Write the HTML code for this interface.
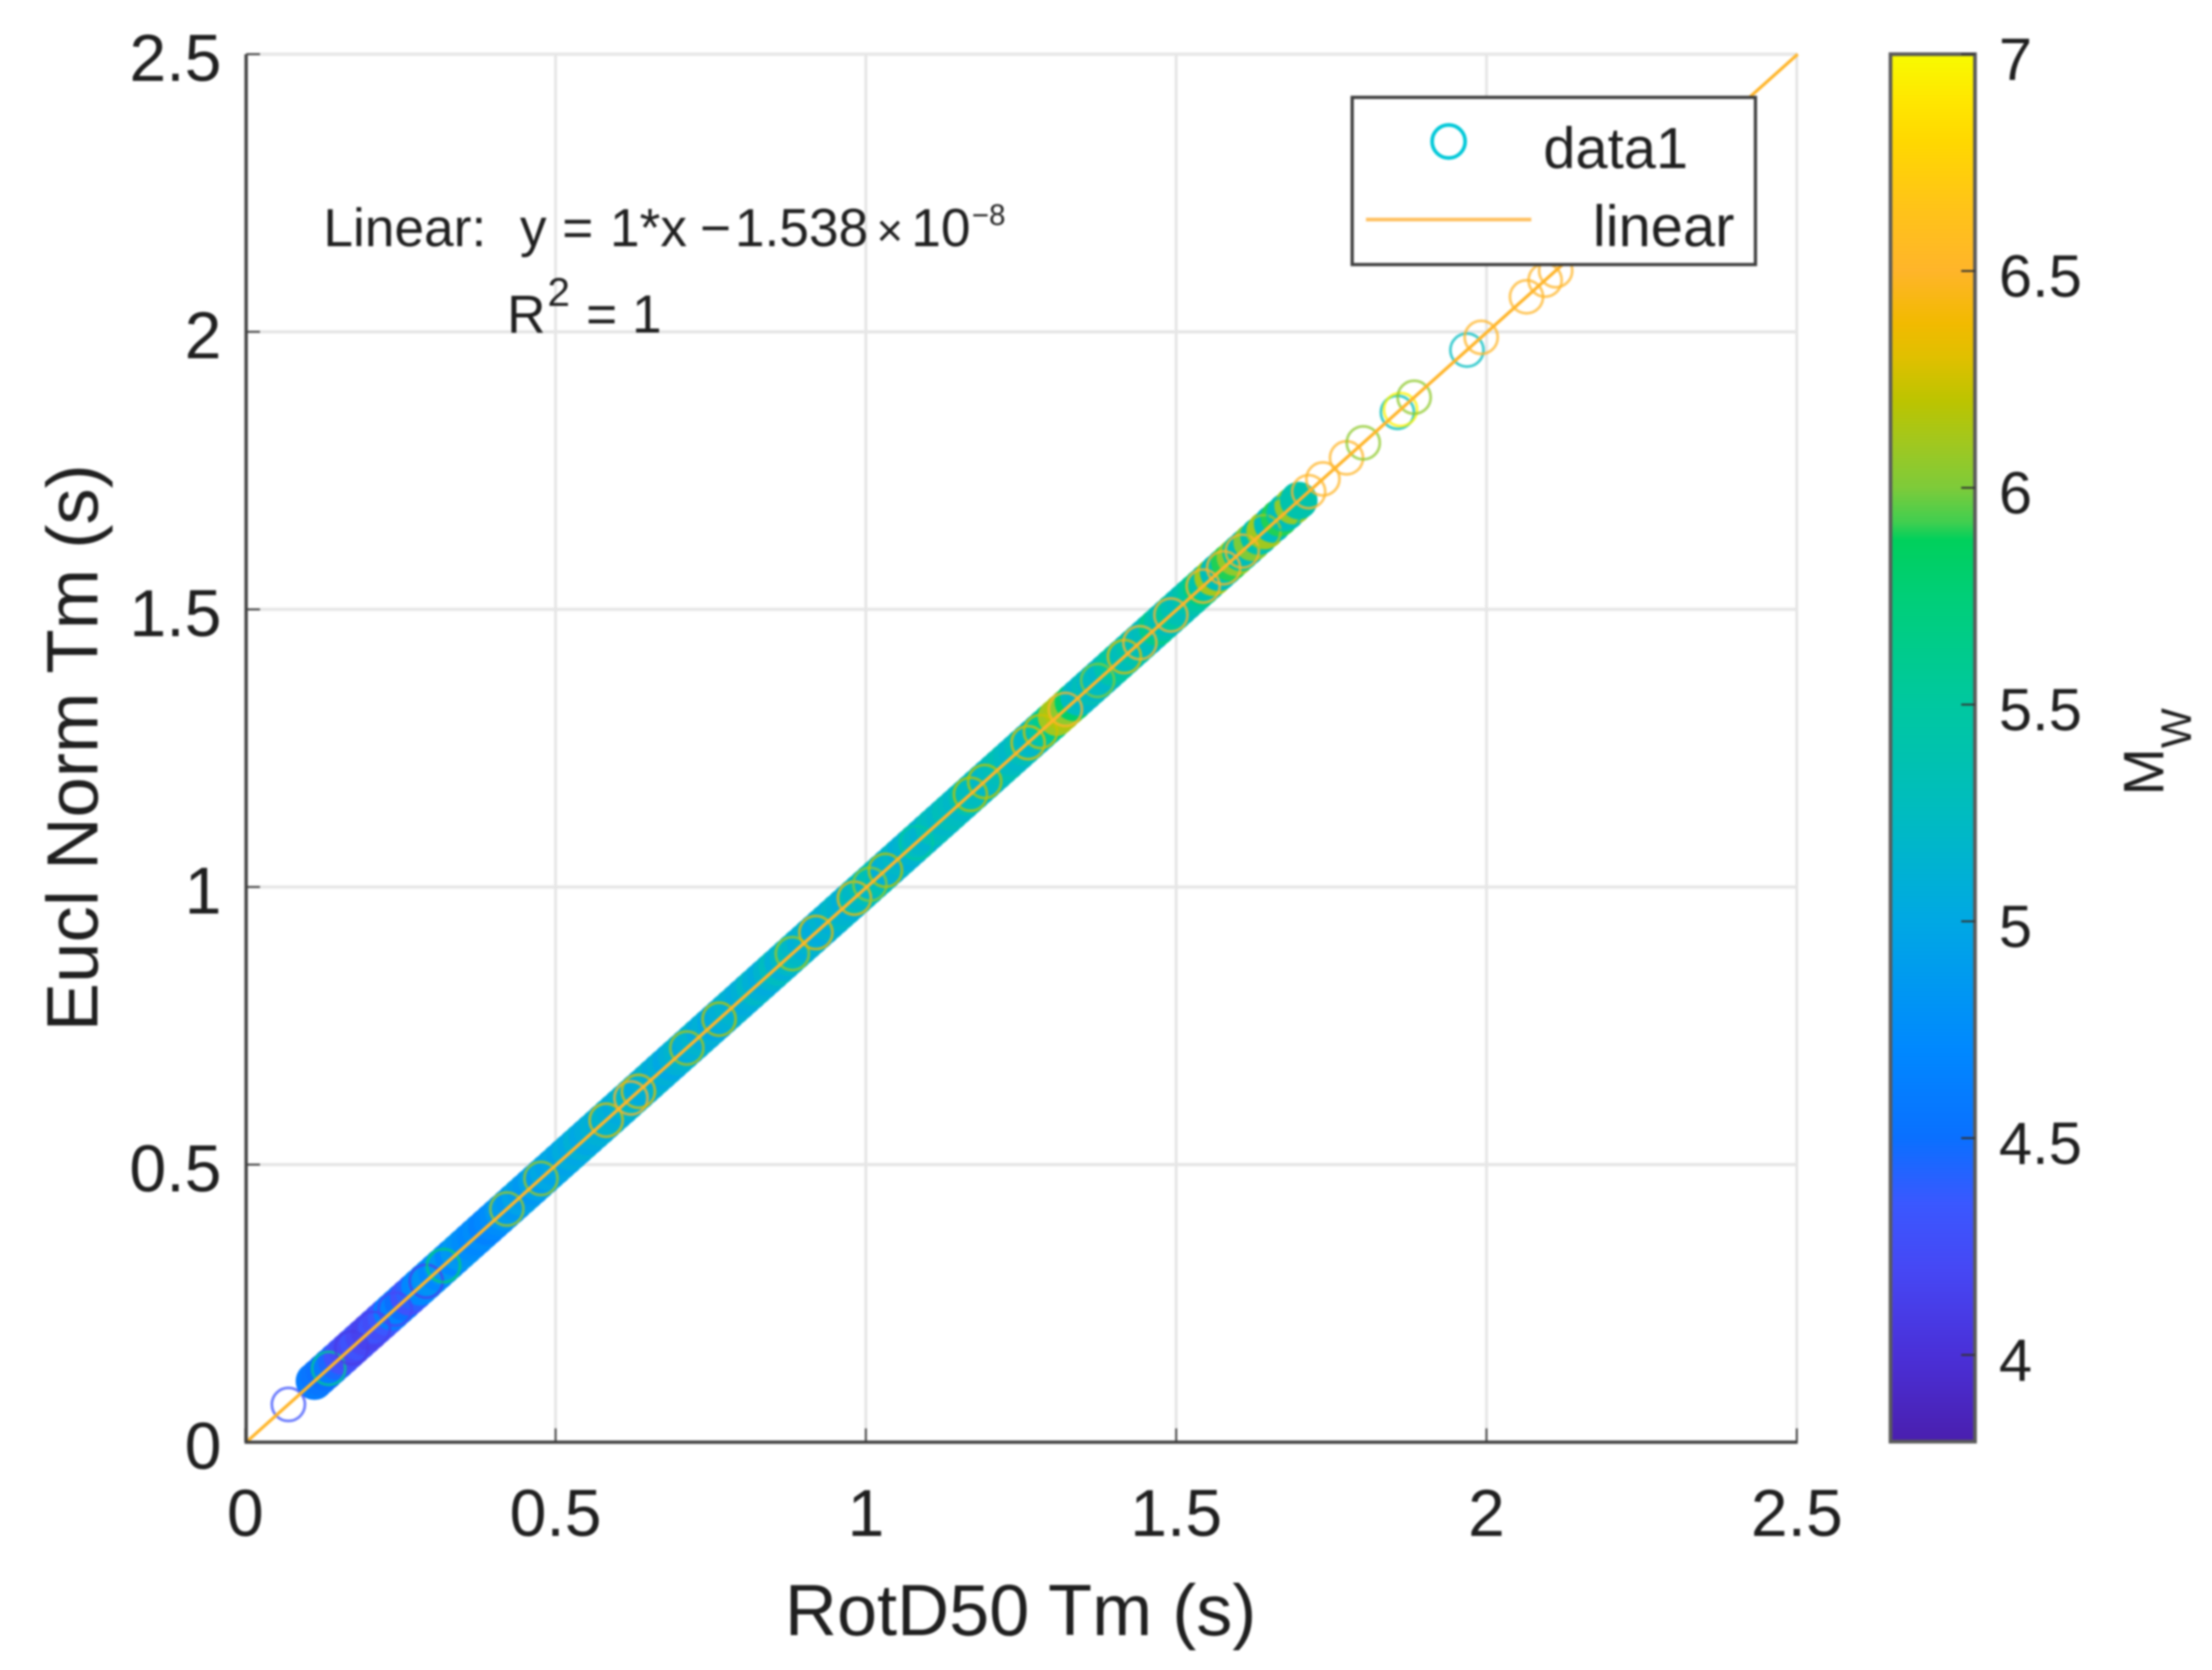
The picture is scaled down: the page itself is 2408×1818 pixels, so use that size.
<!DOCTYPE html>
<html lang="en">
<head>
<meta charset="utf-8">
<title>Eucl Norm Tm vs RotD50 Tm</title>
<style>
html,body{margin:0;padding:0;background:#fff;width:2408px;height:1818px;overflow:hidden}
svg{display:block;filter:blur(1px)}
text{font-family:"Liberation Sans",Arial,sans-serif;fill:#1f1f1f}
</style>
</head>
<body>
<svg id="chart" xmlns="http://www.w3.org/2000/svg" width="2408" height="1818" viewBox="0 0 2408 1818">
  <rect x="0" y="0" width="2408" height="1818" fill="#ffffff"/>
  <defs><linearGradient id="cmap" x1="0" y1="1" x2="0" y2="0"></linearGradient></defs>
  <g id="grid"></g>
  <g id="cluster"></g>
  <g id="rings"></g>
  <g id="fit"></g>
  <g id="axes"></g>

  <text y="268" font-size="58"><tspan x="352">Linear:</tspan><tspan x="566">y</tspan><tspan x="612">=</tspan><tspan x="664">1*x</tspan><tspan x="762">−</tspan><tspan x="800">1.538</tspan><tspan x="954" font-size="50">×</tspan><tspan x="992">10</tspan><tspan x="1058" y="245" font-size="32">−8</tspan></text>
  <text y="362" font-size="58"><tspan x="552">R</tspan><tspan x="596" y="333" font-size="44">2</tspan><tspan x="638" y="362">=</tspan><tspan x="688">1</tspan></text>

  <text x="1111" y="1780" font-size="78.5" text-anchor="middle">RotD50 Tm (s)</text>
  <text transform="translate(106,814) rotate(-90)" font-size="79" text-anchor="middle">Eucl Norm Tm (s)</text>

  <g>
    <rect x="1472" y="106" width="439" height="182" fill="#ffffff" stroke="#3c3c3c" stroke-width="3.5"/>
    <circle cx="1577" cy="154" r="18" fill="none" stroke="#00c8d8" stroke-width="4"/>
    <text x="1680" y="183" font-size="63">data1</text>
    <line x1="1487" y1="239" x2="1667" y2="239" stroke="#ffc060" stroke-width="4"/>
    <text x="1734" y="268" font-size="63">linear</text>
  </g>

  <g id="colorbar"></g>
  <text transform="translate(2355,866) rotate(-90)" font-size="62">M<tspan font-size="46" dy="30">W</tspan></text>
</svg>

<script>
const xTicks = [0, 0.5, 1, 1.5, 2, 2.5];
const yTicks = [0, 0.5, 1, 1.5, 2, 2.5];
const xTickLabels = ['0', '0.5', '1', '1.5', '2', '2.5'];
const yTickLabels = ['0', '0.5', '1', '1.5', '2', '2.5'];
const cbarTicks = [4, 4.5, 5, 5.5, 6, 6.5, 7];
const cbarTickLabels = ['4', '4.5', '5', '5.5', '6', '6.5', '7'];
const cmapMw = [3.8, 4.0, 4.2, 4.35, 4.5, 4.7, 5.0, 5.25, 5.5, 5.75, 5.88, 5.92, 6.0, 6.1, 6.2, 6.3, 6.38, 6.5, 6.65, 6.8, 6.9, 7.0];
const cmapHex = ['#4a1fae', '#4a30d8', '#4648f5', '#3a58ff', '#0a70ff', '#0088ff', '#00a8e4', '#00bcc0', '#00c8a0', '#00cf78', '#00d05c', '#40cf50', '#7ecb3a', '#a0c820', '#bcc400', '#e0c000', '#f2ba00', '#ffb52a', '#ffc418', '#ffd800', '#ffe800', '#f8fb00'];
const fitX = [0, 2.5];
const fitY = [0, 2.5];

/* densely overlapping records along the 1:1 line */
const clusterT = [0.110,0.118,0.127,0.136,0.146,0.155,0.164,0.172,0.181,0.190,0.199,0.208,0.217,0.226,0.235,0.244,0.253,0.262,0.271,0.280,0.289,0.298,0.307,0.316,0.325,0.334,0.343,0.352,0.361,0.370,0.379,0.388,0.397,0.406,0.415,0.424,0.433,0.442,0.451,0.460,0.469,0.478,0.487,0.496,0.505,0.514,0.523,0.532,0.541,0.550,0.559,0.568,0.577,0.586,0.595,0.604,0.613,0.622,0.631,0.640,0.649,0.658,0.667,0.676,0.685,0.694,0.703,0.712,0.721,0.730,0.739,0.748,0.757,0.766,0.775,0.784,0.793,0.802,0.811,0.820,0.829,0.838,0.847,0.856,0.865,0.874,0.883,0.892,0.901,0.910,0.919,0.928,0.937,0.946,0.955,0.964,0.973,0.982,0.991,1.000,1.009,1.018,1.027,1.036,1.045,1.054,1.063,1.072,1.081,1.090,1.099,1.108,1.117,1.126,1.135,1.144,1.153,1.162,1.171,1.180,1.189,1.198,1.207,1.216,1.225,1.234,1.243,1.252,1.261,1.270,1.279,1.288,1.297,1.306,1.315,1.324,1.333,1.342,1.351,1.360,1.369,1.378,1.387,1.396,1.405,1.414,1.423,1.432,1.441,1.450,1.459,1.468,1.477,1.486,1.495,1.504,1.513,1.522,1.531,1.540,1.549,1.558,1.567,1.576,1.585,1.594,1.603,1.612,1.621,1.632,1.643,1.654,1.665,1.676,1.687,1.696];
const clusterMw = [4.6,4.55,4.5,4.6,4.45,4.3,4.25,4.2,4.3,4.2,4.15,4.3,4.25,4.35,4.6,4.65,4.5,4.3,4.4,4.7,4.75,4.8,4.7,4.8,4.85,4.7,4.85,4.8,4.75,4.7,4.75,4.65,4.7,4.75,4.85,4.9,4.85,4.95,4.9,4.85,4.95,4.9,5.0,4.95,5.0,4.95,5.05,5.0,5.1,5.0,5.05,5.1,5.05,5.15,5.1,5.05,5.15,5.2,5.1,5.05,5.1,5.15,5.05,5.1,5.0,5.1,5.15,5.05,5.1,5.15,5.05,5.1,5.0,5.05,5.1,5.15,5.1,5.05,5.1,5.2,5.1,5.05,5.15,5.25,5.1,5.2,5.25,5.2,5.1,5.15,5.1,5.05,5.15,5.1,5.2,5.15,5.1,5.3,5.2,5.3,5.2,5.35,5.25,5.1,5.15,5.2,5.1,5.15,5.25,5.2,5.15,5.3,5.25,5.2,5.3,5.25,5.2,5.35,5.3,5.25,5.3,5.2,5.25,5.3,5.35,5.25,5.2,5.3,5.25,5.2,5.3,5.45,5.6,6.1,6.15,6.05,5.8,5.25,5.2,5.3,5.2,5.25,5.2,5.4,5.5,5.35,5.3,5.4,5.35,5.25,5.3,5.6,5.4,5.3,5.5,5.35,5.3,5.4,5.5,5.7,5.4,6.1,5.3,5.4,5.9,6.05,5.5,5.3,6.0,5.4,6.1,5.3,5.9,5.3,6.05,5.4];

/* individually readable open circles */
const ringT = [0.068,0.133,0.170,0.205,0.240,0.290,0.318,0.420,0.475,0.580,0.620,0.632,0.710,0.762,0.880,0.918,0.980,1.005,1.030,1.080,1.167,1.190,1.260,1.280,1.320,1.372,1.415,1.440,1.490,1.542,1.575,1.605,1.640,1.672,1.712,1.735,1.773,1.800,1.855,1.860,1.882,1.967,1.990,2.063,2.093,2.110];
const ringMw = [4.3,5.6,4.1,4.15,4.2,4.15,5.75,6.1,6.1,6.3,6.5,6.3,6.15,6.2,6.1,6.35,6.4,6.05,6.2,5.5,6.2,6.2,6.3,6.25,6.5,6.0,6.3,6.5,6.5,6.5,6.5,6.5,6.1,5.4,6.5,6.5,6.5,6.05,5.3,6.95,6.05,5.25,6.5,6.5,6.5,6.5];

function xScale(v) { return 268 + 675.6 * v; }
function yScale(v) { return 1570 - 604.4 * v; }
function cbarScale(v) { return 59 + (7 - v) * 472; }

function mwColor(m) {
  if (m <= cmapMw[0]) return cmapHex[0];
  for (let i = 1; i < cmapMw.length; i++) {
    if (m <= cmapMw[i]) {
      const f = (m - cmapMw[i - 1]) / (cmapMw[i] - cmapMw[i - 1]);
      const a = parseInt(cmapHex[i - 1].slice(1), 16), b = parseInt(cmapHex[i].slice(1), 16);
      const r = Math.round((a >> 16) + ((b >> 16) - (a >> 16)) * f);
      const g = Math.round(((a >> 8) & 255) + (((b >> 8) & 255) - ((a >> 8) & 255)) * f);
      const c = Math.round((a & 255) + ((b & 255) - (a & 255)) * f);
      return 'rgb(' + r + ',' + g + ',' + c + ')';
    }
  }
  return cmapHex[cmapHex.length - 1];
}

const NS = 'http://www.w3.org/2000/svg';
function make(tag, attrs, parent) {
  const el = document.createElementNS(NS, tag);
  for (const k in attrs) el.setAttribute(k, attrs[k]);
  parent.appendChild(el);
  return el;
}
const gridG = document.getElementById('grid');
const clusterG = document.getElementById('cluster');
const ringsG = document.getElementById('rings');
const fitG = document.getElementById('fit');
const axesG = document.getElementById('axes');
const cbarG = document.getElementById('colorbar');
const x0 = xScale(0), x1 = xScale(2.5), y0 = yScale(0), y1 = yScale(2.5);

xTicks.forEach(function (t) {
  const el = make('line', { x1: xScale(t) - 1, x2: xScale(t) - 1, y1: y0, y2: y1, stroke: '#e4e4e4', 'stroke-width': 3 }, gridG);
  
  
});
yTicks.forEach(function (t) {
  const el = make('line', { x1: x0, x2: x1, y1: yScale(t), y2: yScale(t), stroke: '#e6e6e6', 'stroke-width': 3.5 }, gridG);
  
  
});

clusterT.forEach(function (t, i) {
  const el = make('circle', { cx: xScale(t), cy: yScale(t), r: 20.5, fill: mwColor(clusterMw[i]) }, clusterG);
  
  
});
ringT.forEach(function (t, i) {
  const el = make('circle', { cx: xScale(t), cy: yScale(t), r: 18, fill: 'none', stroke: mwColor(ringMw[i]), 'stroke-width': 3, 'stroke-opacity': 0.75 }, ringsG);
  
  
});

const fitLine = make('line', { x1: xScale(fitX[0]), y1: yScale(fitY[0]), x2: xScale(fitX[1]), y2: yScale(fitY[1]), stroke: '#ffb52a', 'stroke-width': 3.5 }, fitG);



const axisPath = make('path', { d: 'M' + x0 + ' ' + y1 + 'L' + x0 + ' ' + y0 + 'L' + x1 + ' ' + y0, fill: 'none', stroke: '#404040', 'stroke-width': 3.5 }, axesG);



xTicks.forEach(function (t, i) {
  const tk = make('line', { x1: xScale(t) - 1, x2: xScale(t) - 1, y1: y0, y2: y0 - 15, stroke: '#404040', 'stroke-width': 2 }, axesG);
  
  
  const lb = make('text', { x: xScale(t) - 1, y: 1672, 'font-size': 72, 'text-anchor': 'middle' }, axesG);
  lb.textContent = xTickLabels[i];
  
  
});
yTicks.forEach(function (t, i) {
  const tk = make('line', { x1: x0, x2: x0 + 15, y1: yScale(t), y2: yScale(t), stroke: '#404040', 'stroke-width': 2 }, axesG);
  
  
  const lb = make('text', { x: 241, y: yScale(t) + 29, 'font-size': 72, 'text-anchor': 'end' }, axesG);
  lb.textContent = yTickLabels[i];
  
  
});

const grad = document.getElementById('cmap');
cmapMw.forEach(function (m, i) {
  make('stop', { offset: (m - 3.8) / 3.2, 'stop-color': cmapHex[i] }, grad);
});
const cbarRect = make('rect', { x: 2058, y: cbarScale(7), width: 92, height: cbarScale(3.8) - cbarScale(7), fill: 'url(#cmap)', stroke: '#5a5a5a', 'stroke-width': 4 }, cbarG);


cbarTicks.forEach(function (t, i) {
  const tk = make('line', { x1: 2135, x2: 2150, y1: cbarScale(t), y2: cbarScale(t), stroke: '#333333', 'stroke-width': 2 }, cbarG);
  
  
  const lb = make('text', { x: 2176, y: cbarScale(t) + 28, 'font-size': 65 }, cbarG);
  lb.textContent = cbarTickLabels[i];
  
  
});
</script>
</body>
</html>
